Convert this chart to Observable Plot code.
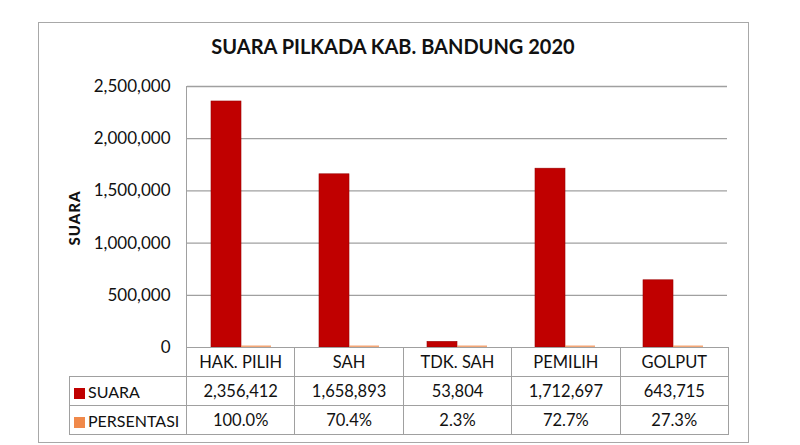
<!DOCTYPE html>
<html>
<head>
<meta charset="utf-8">
<script src="https://cdn.jsdelivr.net/npm/d3@7"></script>
<script src="https://cdn.jsdelivr.net/npm/@observablehq/plot@0.6"></script>
<style>
  html, body { margin: 0; padding: 0; background: #fff; }
  body { width: 800px; height: 445px; position: relative; overflow: hidden; font-family: Lato, "Open Sans", sans-serif; }
  #box { position: absolute; left: 38px; top: 22px; width: 709px; height: 419px; border: 1.5px solid #a8a8a8; }
  #title { position: absolute; left: 38px; top: 34px; width: 710px; text-align: center; font-weight: bold; font-size: 20px; color: #111; }
  #ylabel { position: absolute; left: 74px; top: 218px; transform: translate(-50%, -50%) rotate(-90deg); font-weight: 900; font-size: 15px; letter-spacing: 1px; color: #111; }
  #chart { position: absolute; left: 0; top: 0; }
  #axisline { position: absolute; left: 185.5px; top: 86px; width: 0; height: 261px; border-left: 1.3px solid #a0a0a0; }
  #tbl { position: absolute; left: 69px; top: 347px; border-collapse: collapse; table-layout: fixed; font-size: 16.5px; color: #111; }
  #tbl td { border: 1px solid #a0a0a0; height: 28px; padding: 0; text-align: center; white-space: nowrap; overflow: visible; }
  #tbl td.head { text-align: left; padding-left: 4px; font-size: 16px; }
  #tbl td.empty { border-top: none; border-left: none; }
  .key { display: inline-block; width: 11px; height: 11px; margin-right: 3px; vertical-align: -1px; }
</style>
</head>
<body>
<div id="box"></div>
<div id="chart"></div>
<div id="axisline"></div>
<div id="title"></div>
<div id="ylabel"></div>
<table id="tbl"></table>
<script>
const titleText = "SUARA PILKADA KAB. BANDUNG 2020";
const yLabel = "SUARA";
const categories = ["HAK. PILIH", "SAH", "TDK. SAH", "PEMILIH", "GOLPUT"];
const series = ["SUARA", "PERSENTASI"];
const suara = [2356412, 1658893, 53804, 1712697, 643715];
const persentasi = [100.0, 70.4, 2.3, 72.7, 27.3];
const yTicks = [0, 500000, 1000000, 1500000, 2000000, 2500000];
const colors = ["#C00000", "#F0894A"];

document.getElementById("title").textContent = titleText;
document.getElementById("ylabel").textContent = yLabel;

const suaraData = categories.map((c, i) => ({cat: c, series: series[0], value: suara[i]}));
const persenData = categories.map((c, i) => ({cat: c, series: series[1], value: persentasi[i]}));

const chart = Plot.plot({
  width: 800,
  height: 360,
  marginLeft: 186,
  marginRight: 72,
  marginTop: 86,
  marginBottom: 13,
  style: {fontFamily: "Lato, 'Open Sans', sans-serif", fontSize: "17px", color: "#111", background: "transparent", overflow: "visible"},
  fx: {domain: categories, padding: 0, axis: null, label: null},
  x: {domain: series, paddingInner: 0, paddingOuter: 0.75, axis: null, label: null},
  y: {domain: [0, 2500000], axis: null},
  marks: [
    Plot.ruleY(yTicks.slice(1), {stroke: "#a0a0a0", strokeWidth: 1.3, strokeOpacity: 1}),
    Plot.barY(suaraData, {fx: "cat", x: "series", y: "value", fill: colors[0], stroke: "#9a0000", strokeWidth: 0.6}),
    Plot.barY(persenData, {fx: "cat", x: "series", y: "value", fill: colors[1], fillOpacity: 0.75, insetTop: -1.5}),
    Plot.axisY(yTicks, {tickSize: 0, tickPadding: 17, tickFormat: d3.format(","), fontSize: 17, label: null, fill: "#111"})
  ]
});
document.getElementById("chart").appendChild(chart);

// data table
const tbl = document.getElementById("tbl");
const colWidths = [117].concat(categories.map(() => 108.4));
const cg = document.createElement("colgroup");
colWidths.forEach(w => { const c = document.createElement("col"); c.style.width = w + "px"; cg.appendChild(c); });
tbl.appendChild(cg);
const fmtInt = d3.format(",");
const fmtPct = d => d.toFixed(1) + "%";
const rows = [
  {head: null, cells: categories},
  {head: series[0], color: colors[0], cells: suara.map(fmtInt)},
  {head: series[1], color: colors[1], cells: persentasi.map(fmtPct)}
];
rows.forEach(r => {
  const tr = document.createElement("tr");
  const th = document.createElement("td");
  if (r.head === null) { th.className = "empty"; }
  else {
    th.className = "head";
    const k = document.createElement("span");
    k.className = "key"; k.style.background = r.color;
    th.appendChild(k);
    th.appendChild(document.createTextNode(r.head));
  }
  tr.appendChild(th);
  r.cells.forEach(v => { const td = document.createElement("td"); td.textContent = v; tr.appendChild(td); });
  tbl.appendChild(tr);
});
</script>
</body>
</html>
